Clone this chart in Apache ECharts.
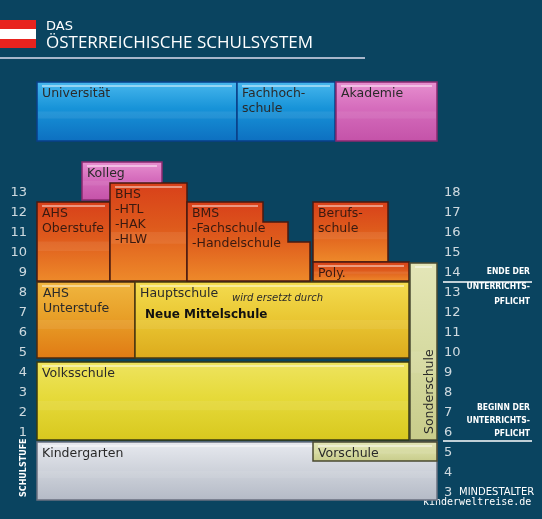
<!DOCTYPE html>
<html><head><meta charset="utf-8">
<script src="https://cdn.jsdelivr.net/npm/echarts@6/dist/echarts.min.js"></script>
<style>html,body{margin:0;padding:0;background:#0a4460}#c{width:542px;height:519px}</style>
</head><body><div id="c"></div>
<script>
// blocks: [name, x0, x1, levelBottom, levelTop, colorKey]
const blockNames = ['Universität','Fachhoch-\nschule','Akademie','Kolleg','AHS\nOberstufe','BHS\n-HTL\n-HAK\n-HLW','Berufs-\nschule','Poly.','AHS\nUnterstufe','Hauptschule','Volksschule','Kindergarten','Vorschule','Sonderschule'];
const blockX0 = [37,237,336,82,37,110,313,313,37,135,37,37,313,410];
const blockX1 = [237,335,437,162,110,187,388,409,135,409,409,437,437,437];
const blockY0 = [15.1,15.1,15.1,12.15,8.1,8.1,9.05,8.1,4.25,4.25,0.15,-2.85,-0.9,0.15];
const blockY1 = [18.05,18.05,18.05,14.05,12.05,13.0,12.05,9.05,8.05,8.05,4.05,0.05,0.05,9.0];
const blockKind = ['blue','blue','pink','pink','red','red','red','red','orange','yellow','yellow2','grey','pale','pale'];
// stepped BMS block: x breakpoints and top levels per step
const bmsX = [187,263,288,310];
const bmsTop = [12.05,11.05,10.05];
const bmsBottom = 8.1;
const bmsLabel = 'BMS\n-Fachschule\n-Handelschule';
// tick labels
const grades = [1,2,3,4,5,6,7,8,9,10,11,12,13];
const ages = [3,4,5,6,7,8,9,10,11,12,13,14,15,16,17,18];

const fills = {
  blue:['#49b8ee','#1793d8','#0d6fc0','#0a3f88'],
  pink:['#e890d0','#d56cbc','#c452a8','#8a2a70'],
  red:['#d8401a','#de5a1c','#ee8a2a','#4a1a10'],
  orange:['#f0b640','#e8a028','#e07a14','#4a2a10'],
  yellow:['#f4dc50','#eac834','#dcaa1c','#4a3a10'],
  yellow2:['#eee460','#e6da3a','#d8c81e','#3a3a10'],
  grey:['#e8eaf0','#d0d4dc','#b4bac6','#6a7080'],
  pale:['#e4e6b8','#d8dca4','#c8cc8a','#4a4a30']
};
function grad(k){const f=fills[k];return new echarts.graphic.LinearGradient(0,0,0,1,[{offset:0,color:f[0]},{offset:0.45,color:f[1]},{offset:1,color:f[2]}]);}

const blockData = blockNames.map((n,i)=>[blockX0[i],blockX1[i],blockY0[i],blockY1[i],i]);
const gradeData = grades.map(g=>[27,g-0.5,String(g)]);
const ageData = ages.map(a=>[444,a-5.5,String(a)]);

const chart = echarts.init(document.getElementById('c'));
function textEl(x,y,txt,st){return {type:'text',x:x,y:y,style:Object.assign({text:txt,fill:'#2a2a2a',font:'12.5px "DejaVu Sans"',lineHeight:15},st||{})};}
chart.setOption({
  backgroundColor:'#0a4460',
  animation:false,
  grid:{left:0,right:0,top:43,bottom:16},
  xAxis:{type:'value',min:0,max:542,show:false},
  yAxis:{type:'value',min:-3,max:20,show:false},
  graphic:[
    {type:'rect',shape:{x:0,y:20,width:36,height:9},style:{fill:'#e8231e'}},
    {type:'rect',shape:{x:0,y:29,width:36,height:10},style:{fill:'#ffffff'}},
    {type:'rect',shape:{x:0,y:39,width:36,height:9},style:{fill:'#e8231e'}},
    {type:'text',x:46,y:20,style:{text:'DAS',fill:'#fff',font:'13px "DejaVu Sans"'}},
    {type:'text',x:46,y:35,style:{text:'ÖSTERREICHISCHE SCHULSYSTEM',fill:'#fff',font:'17px "Open Sans"'}},
    {type:'line',shape:{x1:0,y1:58,x2:365,y2:58},style:{stroke:'#dde',lineWidth:1.5}},
    {type:'text',x:20,y:497,rotation:Math.PI/2,style:{text:'SCHULSTUFE',fill:'#fff',font:'bold 8px "DejaVu Sans"'}},
    {type:'line',shape:{x1:443,y1:282,x2:532,y2:282},style:{stroke:'#fff',lineWidth:1.5}},
    {type:'line',shape:{x1:443,y1:441,x2:532,y2:441},style:{stroke:'#fff',lineWidth:1.5}},
    {type:'text',x:530,y:264,style:{text:'ENDE DER\nUNTERRICHTS-\nPFLICHT',align:'right',fill:'#fff',font:'bold 8.5px "DejaVu Sans Condensed"',lineHeight:15}},
    {type:'text',x:530,y:401,style:{text:'BEGINN DER\nUNTERRICHTS-\nPFLICHT',align:'right',fill:'#fff',font:'bold 8.5px "DejaVu Sans Condensed"',lineHeight:13}},
    {type:'text',x:459,y:487,style:{text:'MINDESTALTER',fill:'#fff',font:'10px "DejaVu Sans"'}},
    {type:'text',x:423,y:497,style:{text:'kinderweltreise.de',fill:'#fff',font:'10px "DejaVu Sans Mono"'}}
  ],
  series:[
    {type:'custom',data:blockData,encode:{x:[0,1],y:[2,3]},renderItem:function(p,api){
      const i=api.value(4);const k=blockKind[i];
      const a=api.coord([api.value(0),api.value(3)]),b=api.coord([api.value(1),api.value(2)]);
      const w=b[0]-a[0],h=b[1]-a[1];
      const ch=[
        {type:'rect',shape:{x:a[0],y:a[1],width:w,height:h},style:{fill:grad(k),stroke:fills[k][3],lineWidth:1.5}},
        {type:'rect',shape:{x:a[0]+5,y:a[1]+3,width:Math.max(0,w-10),height:2},style:{fill:'rgba(255,255,255,0.45)'}},
        {type:'rect',shape:{x:a[0]+1,y:a[1]+h*0.5,width:w-2,height:h*0.12},style:{fill:'rgba(255,255,255,0.07)'}}
      ];
      const n=blockNames[i];
      if(i===13){ch.push({type:'text',x:a[0]+w/2+6,y:b[1]-6,rotation:Math.PI/2,style:{text:n,fill:'#2a2a2a',font:'12.5px "DejaVu Sans"',align:'left',verticalAlign:'middle'}});}
      else{
        ch.push(textEl(a[0]+ (i===8?6:5),a[1]+4,n,{fill:(k==='red'?'#3a1a10':'#2a2a2a')}));
        if(i===9){
          ch.push(textEl(a[0]+97,a[1]+9,'wird ersetzt durch',{font:'italic 10px "DejaVu Sans"'}));
          ch.push(textEl(a[0]+10,a[1]+25,'Neue Mittelschule',{font:'bold 12px "DejaVu Sans"',fill:'#111'}));
        }
      }
      return {type:'group',children:ch};
    },z:2},
    {type:'custom',data:[[bmsX[0],bmsX[3],bmsBottom,bmsTop[0]]],encode:{x:[0,1],y:[2,3]},renderItem:function(p,api){
      const pts=[api.coord([bmsX[0],bmsBottom])];
      for(let s=0;s<bmsTop.length;s++){pts.push(api.coord([bmsX[s],bmsTop[s]]));pts.push(api.coord([bmsX[s+1],bmsTop[s]]));}
      pts.push(api.coord([bmsX[3],bmsBottom]));
      const t=api.coord([bmsX[0],bmsTop[0]]);
      return {type:'group',children:[
        {type:'polygon',shape:{points:pts},style:{fill:grad('red'),stroke:fills.red[3],lineWidth:1.5}},
        {type:'rect',shape:{x:t[0]+5,y:t[1]+3,width:66,height:2},style:{fill:'rgba(255,255,255,0.45)'}},
        textEl(t[0]+5,t[1]+4,bmsLabel,{fill:'#3a1a10'})
      ]};
    },z:2},
    {type:'scatter',data:gradeData,symbolSize:0,label:{show:true,position:'inside',formatter:p=>p.data[2],color:'#fff',fontSize:13,fontFamily:'DejaVu Sans',align:'right'},z:3},
    {type:'scatter',data:ageData,symbolSize:0,label:{show:true,position:'inside',formatter:p=>p.data[2],color:'#fff',fontSize:13,fontFamily:'DejaVu Sans',align:'left'},z:3}
  ]
});
</script></body></html>
